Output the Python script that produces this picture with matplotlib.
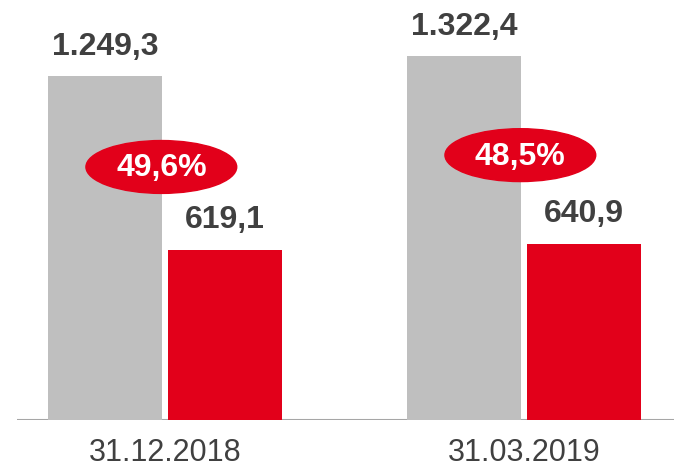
import matplotlib.pyplot as plt
from matplotlib.patches import Ellipse

plt.rcParams['font.family'] = ['Liberation Sans', 'DejaVu Sans']

dates = ['31.12.2018', '31.03.2019']
total = [1249.3, 1322.4]
part = [619.1, 640.9]
share = ['49,6%', '48,5%']
share_y = [919, 962]

grey = '#BFBFBF'
red = '#E2001A'
txt = '#404040'


def fmt(v):
    s = f'{v:,.1f}'
    return s.replace(',', 'X').replace('.', ',').replace('X', '.')


fig = plt.figure(figsize=(6.74, 4.71), dpi=100)
ax = fig.add_axes([17 / 674, 51 / 471, 657 / 674, 413 / 471])
ax.set_xlim(-0.412, 1.418)
ax.set_ylim(0, 1500)

w = 0.3175
off = 0.167
pos = [0, 1]
ax.bar([p - off for p in pos], total, width=w, color=grey)
ax.bar([p + off for p in pos], part, width=w, color=red)

for i, p in enumerate(pos):
    ax.text(p - off, total[i] + 52, fmt(total[i]), ha='center', va='bottom',
            fontsize=23, fontweight='bold', color=txt)
    ax.text(p + off, part[i] + 52, fmt(part[i]), ha='center', va='bottom',
            fontsize=23, fontweight='bold', color=txt)
    ax.add_patch(Ellipse((p - 0.01, share_y[i]), 0.42, 192,
                         color=red, zorder=3))
    ax.text(p - 0.01, share_y[i] - 5, share[i], ha='center', va='center',
            fontsize=23, fontweight='bold', color='white', zorder=4)

ax.axhline(0, color='#A6A6A6', lw=1.5, zorder=0)
ax.set_xticks(pos)
ax.set_xticklabels(dates, fontsize=22, color=txt)
ax.tick_params(axis='x', length=0, pad=13)
ax.set_yticks([])
for s in ax.spines.values():
    s.set_visible(False)

fig.savefig('out.png', dpi=100)
